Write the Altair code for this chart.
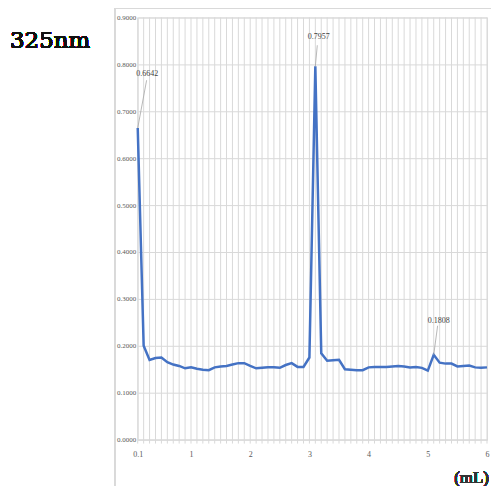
import altair as alt
import pandas as pd

# ---- data ----
volumes = [round(0.1 * i, 1) for i in range(1, 61)]
absorbance = [
    0.6642, 0.200, 0.170, 0.174, 0.175, 0.165, 0.160, 0.157, 0.152, 0.154,
    0.151, 0.149, 0.148, 0.154, 0.156, 0.157, 0.160, 0.163, 0.163, 0.157,
    0.152, 0.153, 0.154, 0.154, 0.153, 0.159, 0.163, 0.155, 0.155, 0.175,
    0.7957, 0.184, 0.168, 0.169, 0.170, 0.150, 0.149, 0.148, 0.148, 0.154,
    0.155, 0.155, 0.155, 0.156, 0.157, 0.156, 0.154, 0.155, 0.153, 0.147,
    0.1808, 0.164, 0.162, 0.162, 0.156, 0.157, 0.158, 0.154, 0.153, 0.154,
]
x_tick_labels = [0.1, 0.5, 1.0, 1.5, 2.0, 2.5, 3.0, 3.5, 4.0, 4.5, 5.0, 5.5, 6.0]
peak_volumes = [0.1, 3.1, 5.1]
peak_values = [0.6642, 0.7957, 0.1808]
peak_labels = ["0.6642", "0.7957", "0.1808"]
y_ticks = [0.0, 0.1, 0.2, 0.3, 0.4, 0.5, 0.6, 0.7, 0.8, 0.9]
title_text = "325nm"
unit_text = "(mL)"

# ---- styling (not data) ----
leader_dx = [0.15, 0.033, 0.066]
leader_dy = [0.102, 0.045, 0.062]
label_dx = [9.5, 3.5, 5]
label_dy = [-54, -29, -34]

df = pd.DataFrame({"vol": volumes, "abs": absorbance})
peaks = pd.DataFrame({
    "vol": peak_volumes, "abs": peak_values, "label": peak_labels,
    "ldx": leader_dx, "ldy": leader_dy,
})

W, H = 350, 423
grid_c = "#d9d9d9"

xscale = alt.Scale(domain=[0.1, 6.0], nice=False, zero=False)
yscale = alt.Scale(domain=[0, 0.9], nice=False)

x_axis = alt.Axis(
    values=x_tick_labels, title=None, grid=False, ticks=False,
    domainColor=grid_c, format="~g",
    labelFont="Liberation Sans Narrow", labelFontSize=8, labelColor="#595959",
    labelPadding=11, labelFlush=False, labelOverlap=False,
)
y_axis = alt.Axis(
    values=y_ticks, format=".4f", title=None, grid=True, gridColor=grid_c,
    gridWidth=1, domain=False, ticks=False, labelFont="Liberation Sans Narrow",
    labelFontSize=7, labelColor="#595959", labelPadding=2,
)

vgrid = alt.Chart(df).mark_rule(color=grid_c, strokeWidth=1).encode(
    x=alt.X("vol:Q", scale=xscale, axis=x_axis),
    y=alt.value(0), y2=alt.value(H + 4),
)

line = alt.Chart(df).mark_line(color="#4472C4", strokeWidth=2.5).encode(
    x=alt.X("vol:Q", scale=xscale, axis=x_axis),
    y=alt.Y("abs:Q", scale=yscale, axis=y_axis),
)

leaders = alt.Chart(peaks).transform_calculate(
    vol2="datum.vol + datum.ldx", abs2="datum.abs + datum.ldy"
).mark_rule(color="#a6a6a6", strokeWidth=0.8).encode(
    x="vol:Q", y="abs:Q", x2="vol2:Q", y2="abs2:Q"
)

labels = []
for i in range(len(peak_labels)):
    labels.append(
        alt.Chart(peaks.iloc[[i]]).mark_text(
            font="Liberation Sans Narrow", fontSize=8, color="#404040",
            dx=label_dx[i], dy=label_dy[i], baseline="middle", align="center",
        ).encode(x="vol:Q", y="abs:Q", text="label:N")
    )

frame = alt.Chart(df).mark_rule(color=grid_c, strokeWidth=1).encode(
    x=alt.value(-23), y=alt.value(-9), y2=alt.value(H + 50)
)
frame_top = alt.Chart(df).mark_rule(color=grid_c, strokeWidth=1).encode(
    x=alt.value(-23), x2=alt.value(W + 4), y=alt.value(-9)
)

title = alt.Chart(df).mark_text(
    font="DejaVu Serif", fontSize=23, color="#111111", align="left", baseline="alphabetic"
).encode(x=alt.value(-128), y=alt.value(31), text=alt.value(title_text))

unit = alt.Chart(df).mark_text(
    font="Liberation Serif", fontSize=17, color="#333333", align="right", baseline="middle"
).encode(x=alt.value(W + 2), y=alt.value(H + 38), text=alt.value(unit_text))

chart = alt.layer(frame, frame_top, vgrid, line, leaders, *labels, title, unit).properties(
    width=W, height=H,
    autosize=alt.AutoSizeParams(type="none"),
    padding={"left": 130, "top": 9, "right": 4, "bottom": 46},
).configure_view(stroke=None).configure(background="white")

chart.save("out.html", embed_options={"renderer": "svg", "actions": False})
